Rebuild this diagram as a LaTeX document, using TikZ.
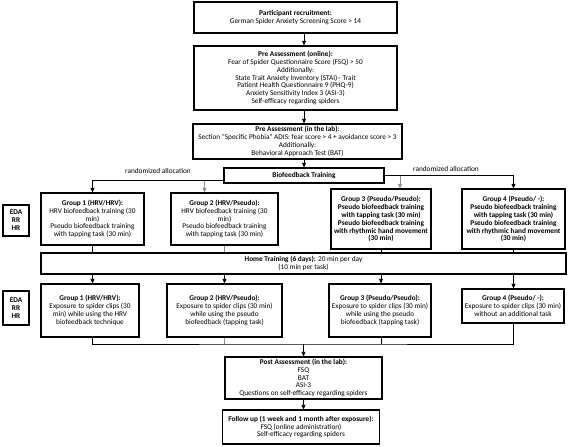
\documentclass[tikz,border=0pt]{standalone}
\usepackage{fontspec}
\setmainfont{Carlito}
\usetikzlibrary{arrows.meta}
\begin{document}
\begin{tikzpicture}[x=1pt, y=-1pt,
        box/.style={draw, line width=1.2pt, align=center, inner sep=1pt, font=\fontsize{7.3}{7.9}\selectfont},
        lbl/.style={inner sep=1pt, font=\fontsize{7.3}{7.9}\selectfont},
        arr/.style={line width=0.8pt, -{Triangle[length=4.5pt, width=4pt]}},
        ln/.style={line width=0.8pt},
        dim/.style={draw=black!45}]
    \useasboundingbox (0, 0) rectangle (568, 447);
    \node[box, minimum width=203pt, minimum height=31pt] (recruit) at (295.5, 17.5)
        {\textbf{Participant recruitment:}\\German Spider Anxiety Screening Score > 14};
    \node[box, minimum width=203pt, minimum height=64pt] (online) at (295.5, 78)
        {\textbf{Pre Assessment (online):}\\Fear of Spider Questionnaire Score (FSQ) > 50\\Additionally:\\State Trait Anxiety Inventory (STAI)– Trait\\Patient Health Questionnaire 9 (PHQ-9)\\Anxiety Sensitivity Index 3 (ASI-3)\\Self-efficacy regarding spiders};
    \node[box, minimum width=209pt, minimum height=35pt] (lab) at (297.5, 141.5)
        {\textbf{Pre Assessment (in the lab):}\\Section ``Specific Phobia'' ADIS: fear score > 4 + avoidance score > 3\\Additionally:\\Behavioral Approach Test (BAT)};
    \node[box, minimum width=160pt, minimum height=15pt] (bio) at (304, 175.5) {\textbf{Biofeedback Training}};
    \node[lbl] (alloc1) at (158, 171) {randomized allocation};
    \node[lbl] (alloc2) at (446, 169) {randomized allocation};
    \node[box, font=\fontsize{7.3}{7.9}\selectfont\bfseries, minimum width=26pt, minimum height=31pt] (eda1) at (16, 220.5) {EDA\\RR\\HR};
    \node[box, minimum width=103pt, minimum height=52pt] (g1a) at (92.5, 219)
        {\textbf{Group 1 (HRV/HRV):}\\HRV biofeedback training (30\\min)\\Pseudo biofeedback training\\with tapping task (30 min)};
    \node[box, minimum width=107pt, minimum height=52pt] (g2a) at (224.5, 219)
        {\textbf{Group 2 (HRV/Pseudo):}\\HRV biofeedback training (30\\min)\\Pseudo biofeedback training\\with tapping task (30 min)};
    \node[box, font=\fontsize{7.3}{7.9}\selectfont\bfseries, minimum width=100pt, minimum height=60pt] (g3a) at (381, 219)
        {Group 3 (Pseudo/Pseudo):\\Pseudo biofeedback training\\with tapping task (30 min)\\Pseudo biofeedback training\\with rhythmic hand movement\\(30 min)};
    \node[box, font=\fontsize{7.3}{7.9}\selectfont\bfseries, minimum width=103pt, minimum height=60pt] (g4a) at (513.5, 219)
        {Group 4 (Pseudo/ -):\\Pseudo biofeedback training\\with tapping task (30 min)\\Pseudo biofeedback training\\with rhythmic hand movement\\(30 min)};
    \node[box, minimum width=525pt, minimum height=21pt] (home) at (303.5, 263.5)
        {\textbf{Home Training (6 days):} 20 min per day\\(10 min per task)};
    \node[box, font=\fontsize{7.3}{7.9}\selectfont\bfseries, minimum width=26pt, minimum height=34pt] (eda2) at (16, 308) {EDA\\RR\\HR};
    \node[box, minimum width=98pt, minimum height=53pt] (g1b) at (90, 310.5)
        {\textbf{Group 1 (HRV/HRV):}\\Exposure to spider clips (30\\min) while using the HRV\\biofeedback technique};
    \node[box, minimum width=115pt, minimum height=53pt] (g2b) at (224.5, 310.5)
        {\textbf{Group 2 (HRV/Pseudo):}\\Exposure to spider clips (30 min)\\while using the pseudo\\biofeedback (tapping task)};
    \node[box, minimum width=102pt, minimum height=53pt] (g3b) at (380, 310.5)
        {\textbf{Group 3 (Pseudo/Pseudo):}\\Exposure to spider clips (30 min)\\while using the pseudo\\biofeedback (tapping task)};
    \node[box, minimum width=102pt, minimum height=34pt] (g4b) at (513, 306)
        {\textbf{Group 4 (Pseudo/ -):}\\Exposure to spider clips (30 min)\\without an additional task};
    \node[box, minimum width=157pt, minimum height=42pt] (post) at (303.5, 378)
        {\textbf{Post Assessment (in the lab):}\\FSQ\\BAT\\ASI-3\\Questions on self-efficacy regarding spiders};
    \node[box, minimum width=157pt, minimum height=34pt] (follow) at (301, 427)
        {\textbf{Follow up (1 week and 1 month after exposure):}\\FSQ (online administration)\\Self-efficacy regarding spiders};
    \draw[arr] (recruit.south -| bio.north) -- (online.north -| bio.north);
    \draw[arr] (online.south -| bio.north) -- (lab.north -| bio.north);
    \draw[arr] (lab.south -| bio.north) -- (bio.north);
    \coordinate (lsplit) at ([yshift=3pt]bio.south west);
    \coordinate (g2in) at ([xshift=-20pt]g2a.north);
    \coordinate (g3in) at ([xshift=19pt]g3a.north);
    \draw[arr] (lsplit) -| (g1a.north);
    \draw[arr, dim] (lsplit -| g2in) -- (g2in);
    \draw[arr] (bio.east) -| (g4a.north);
    \draw[arr, dim] (bio.east -| g3in) -- (g3in);
    \foreach \g in {g1a, g3a, g4a}
        \draw[ln] (\g.south) -- (\g.south |- home.north);
    \draw[ln, dim] (g2a.south) -- (g2a.south |- home.north);
    \foreach \g in {g1, g2, g3, g4}
        \draw[arr] (home.south -| \g a.south) -- (\g b.north -| \g a.south);
    \coordinate (mrg) at (303.5, 344);
    \draw[ln] (g1b.south -| g1a.south) |- (mrg) -| (g4b.south -| g4a.south);
    \draw[ln, dim] (g2b.south) -- (g2b.south |- mrg);
    \draw[ln] (g3b.south -| g3a.south) -- (mrg -| g3a.south);
    \draw[arr] (mrg) -- (post.north);
    \draw[arr] (post.south) -- (post.south |- follow.north);
\end{tikzpicture}
\end{document}
